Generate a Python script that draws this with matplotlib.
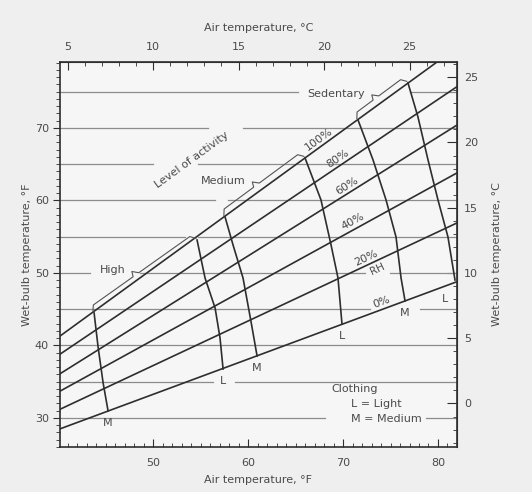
import numpy as np
import matplotlib.pyplot as plt
from matplotlib.ticker import MultipleLocator, FixedLocator

# axis ranges (deg F)
db_min, db_max = 40.2, 82.0
wb_min, wb_max = 26.0, 79.1

# celsius tick labels on the top and right axes
top_ticks_c = [5, 10, 15, 20, 25]
right_ticks_c = [0, 5, 10, 15, 20, 25]

# constant relative humidity lines: wet-bulb at db_min and db_max
rh_labels = ['100%', '80%', '60%', '40%', '20%', '0%']
rh_wb_left = [41.3, 38.8, 36.1, 33.7, 31.2, 28.5]
rh_wb_right = [81.1, 75.7, 70.4, 63.8, 56.9, 48.8]
rh_label_db = [67.8, 69.7, 70.7, 71.3, 72.6, 74.2]

# comfort curves per activity level / clothing
activity = ['High', 'High', 'Medium', 'Medium', 'Sedentary', 'Sedentary']
clothing = ['M', 'L', 'M', 'L', 'M', 'L']
curve_db = [
    [43.79, 44.21, 44.74, 45.26],
    [54.63, 55.47, 56.53, 57.05, 57.37],
    [57.58, 58.42, 59.47, 60.32, 60.95],
    [66.0, 67.68, 68.74, 69.47, 69.89],
    [71.58, 73.16, 74.53, 75.58, 76.11, 76.53],
    [76.84, 77.89, 78.95, 80.0, 81.05, 81.79],
]
curve_wb = [
    [44.48, 39.79, 34.83, 30.97],
    [54.55, 49.31, 45.17, 41.03, 36.76],
    [57.72, 53.86, 49.31, 43.24, 38.55],
    [65.86, 60.07, 53.86, 49.31, 42.97],
    [71.10, 65.59, 60.07, 54.97, 49.31, 46.14],
    [76.21, 71.52, 65.59, 60.07, 54.97, 49.03],
]

# horizontal wet-bulb grid, with breaks left for the labels
grid_wb = [30, 35, 40, 45, 50, 55, 60, 65, 70, 75]
grid_gaps = {
    30: [(68.1, 78.7)], 35: [(56.3, 58.6)], 40: [],
    45: [(72.8, 78.1)], 50: [(43.4, 48.6), (72.3, 74.9)],
    55: [(53.4, 54.7)], 60: [(56.5, 57.9)], 65: [(50.0, 54.7)],
    70: [(55.8, 59.5)], 75: [(65.3, 77.0)],
}

ink = '#2e2e2e'
txt = '#4a4a4a'
plt.rcParams['font.family'] = 'DejaVu Sans'
plt.rcParams['font.size'] = 8

fig = plt.figure(figsize=(5.32, 4.92), dpi=100, facecolor='#efefef')
ax = fig.add_axes([0.1128, 0.0915, 0.7462, 0.7825])
ax.set_facecolor('#f6f6f6')
ax.set_xlim(db_min, db_max)
ax.set_ylim(wb_min, wb_max)


def screen_angle(x0, y0, x1, y1):
    p = ax.transData.transform([(x0, y0), (x1, y1)])
    return np.degrees(np.arctan2(p[1, 1] - p[0, 1], p[1, 0] - p[0, 0]))


# grid lines
for level in grid_wb:
    start = db_min
    segs = []
    for g0, g1 in grid_gaps[level]:
        segs.append((start, g0))
        start = g1
    segs.append((start, db_max))
    for s0, s1 in segs:
        ax.plot([s0, s1], [level, level], color='#8c8c8c', lw=0.9, zorder=1)

# RH lines + labels
for lab, wl, wr, xl in zip(rh_labels, rh_wb_left, rh_wb_right, rh_label_db):
    ax.plot([db_min, db_max], [wl, wr], color=ink, lw=1.2, zorder=3)
    yl = wl + (wr - wl) * (xl - db_min) / (db_max - db_min)
    ang = screen_angle(db_min, wl, db_max, wr)
    ax.text(xl, yl + 0.35, lab, rotation=ang, rotation_mode='anchor',
            ha='center', va='bottom', color=txt, fontsize=8)
# "RH" under the 20% line
wl, wr = rh_wb_left[4], rh_wb_right[4]
x_rh = 73.4
y_rh = wl + (wr - wl) * (x_rh - db_min) / (db_max - db_min)
ax.text(x_rh, y_rh - 0.5, 'RH', rotation=screen_angle(db_min, wl, db_max, wr),
        rotation_mode='anchor', ha='center', va='top', color=txt, fontsize=7.5)

# activity curves
for i, (xs, ys) in enumerate(zip(curve_db, curve_wb)):
    ax.plot(xs, ys, color=ink, lw=1.2, zorder=3)
    off = (-7, -10) if i == len(curve_db) - 1 else (0, -5)
    ax.annotate(clothing[i], (xs[-1], ys[-1]), xytext=off, textcoords='offset points',
                ha='center', va='top', color=txt, fontsize=8)


# braces spanning the two curves of each activity level
def brace(p0, p1, label, d=7, tip=5):
    a, b = ax.transData.transform([p0, p1])
    u = (b - a) / np.hypot(*(b - a))
    n = np.array([-u[1], u[0]])
    m = a + (b - a) * 0.45
    pts = [a + n * 2, a + n * d + u * 4, m + n * d - u * 4, m + n * (d + tip) - u * 2,
           m + n * d + u * 3, b + n * d - u * 4, b + n * 2]
    data = ax.transData.inverted().transform(pts)
    ax.plot(data[:, 0], data[:, 1], color='#555555', lw=0.8, zorder=3)
    lp = ax.transData.inverted().transform(m + n * (d + tip) - np.array([8, 0]))
    ax.text(lp[0], lp[1], label, ha='right', va='center', color=txt, fontsize=8)


for k in range(0, len(curve_db), 2):
    brace((curve_db[k][0], curve_wb[k][0]), (curve_db[k + 1][0], curve_wb[k + 1][0]), activity[k])

ang100 = screen_angle(db_min, rh_wb_left[0], db_max, rh_wb_right[0])
ax.text(54.1, 65.6, 'Level of activity', rotation=ang100, rotation_mode='anchor',
        ha='center', va='center', color=txt, fontsize=8)

# clothing key
ax.text(68.74, 34.0, 'Clothing', ha='left', va='center', color=txt, fontsize=8)
ax.text(70.84, 31.93, 'L = Light', ha='left', va='center', color=txt, fontsize=8)
ax.text(70.84, 29.86, 'M = Medium', ha='left', va='center', color=txt, fontsize=8)

# axes, ticks
for sp in ax.spines.values():
    sp.set_color(ink)
    sp.set_linewidth(1.2)
ax.xaxis.set_major_locator(MultipleLocator(10))
ax.xaxis.set_minor_locator(MultipleLocator(1))
ax.yaxis.set_major_locator(MultipleLocator(10))
ax.yaxis.set_minor_locator(MultipleLocator(1))
ax.tick_params(axis='x', which='major', direction='in', length=6, color=ink, labelcolor=txt, pad=8)
ax.tick_params(axis='x', which='minor', direction='in', length=3, color=ink)
ax.tick_params(axis='y', which='major', direction='out', length=5, color=ink, labelcolor=txt, pad=3)
ax.tick_params(axis='y', which='minor', direction='out', length=3, color=ink)
ax.set_xlabel('Air temperature, °F', color=txt, labelpad=5)
ax.set_ylabel('Wet-bulb temperature, °F', color=txt, labelpad=2)


def f2c(f):
    return (np.asarray(f) - 32) * 5 / 9


def c2f(c):
    return np.asarray(c) * 9 / 5 + 32


top = ax.secondary_xaxis('top', functions=(f2c, c2f))
top.xaxis.set_major_locator(FixedLocator(top_ticks_c))
top.xaxis.set_minor_locator(FixedLocator(np.arange(5, 28)))
top.tick_params(which='major', direction='in', length=6, color=ink, labelcolor=txt, pad=7)
top.tick_params(which='minor', direction='in', length=3, color=ink)
top.set_xlabel('Air temperature, °C', color=txt, labelpad=8)
top.spines['top'].set_color(ink)

right = ax.secondary_yaxis('right', functions=(f2c, c2f))
right.yaxis.set_major_locator(FixedLocator(right_ticks_c))
right.yaxis.set_minor_locator(FixedLocator(np.arange(-3, 27)))
right.tick_params(which='major', direction='in', length=7, color=ink, labelcolor=txt, pad=5)
right.tick_params(which='minor', direction='in', length=3, color=ink)
right.set_ylabel('Wet-bulb temperature, °C', color=txt, labelpad=10)
right.spines['right'].set_color(ink)

fig.savefig('out.png', dpi=100, facecolor=fig.get_facecolor())
